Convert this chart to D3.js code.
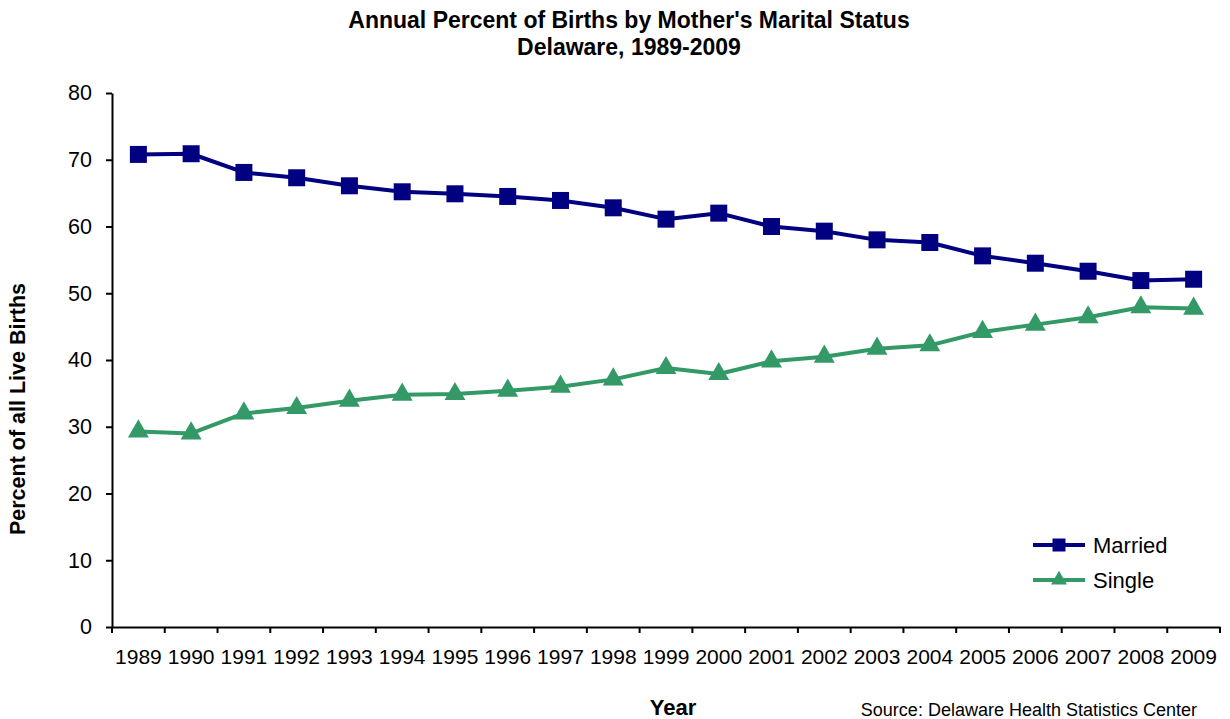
<!DOCTYPE html>
<html>
<head>
<meta charset="utf-8">
<script src="https://cdn.jsdelivr.net/npm/d3@7"></script>
<style>
  html, body { margin: 0; padding: 0; background: #fff; }
  svg { display: block; font-family: "Liberation Sans", Arial, sans-serif; }
</style>
</head>
<body>
<svg id="chart" width="1230" height="719"></svg>
<script>
const years = ["1989","1990","1991","1992","1993","1994","1995","1996","1997","1998","1999","2000","2001","2002","2003","2004","2005","2006","2007","2008","2009"];
const married = [70.8,70.9,68.1,67.3,66.1,65.2,64.9,64.5,63.9,62.8,61.1,62.0,60.0,59.3,58.0,57.6,55.6,54.5,53.3,51.9,52.1];
const single  = [29.3,29.0,32.0,32.8,33.9,34.8,34.9,35.4,36.0,37.1,38.8,37.9,39.8,40.5,41.7,42.2,44.2,45.3,46.4,47.9,47.7];
const yTicks = [0,10,20,30,40,50,60,70,80];
const seriesNames = ["Married","Single"];
const seriesColors = ["#000080","#339966"];

(function () {
const svg = d3.select("#chart");
const pLeft = 112, pRight = 1220, pTop = 93, pBottom = 627;

const x = d3.scaleBand().domain(years).range([pLeft, pRight]).padding(0);
const y = d3.scaleLinear().domain([0, 80]).range([pBottom, pTop]);

// Title
svg.append("text").attr("x", 629).attr("y", 28).attr("text-anchor", "middle")
  .attr("font-size", 23).attr("font-weight", "bold").attr("fill", "#000")
  .text("Annual Percent of Births by Mother's Marital Status");
svg.append("text").attr("x", 629).attr("y", 55).attr("text-anchor", "middle")
  .attr("font-size", 23).attr("font-weight", "bold").attr("fill", "#000")
  .text("Delaware, 1989-2009");

// Y axis
const yAxis = svg.append("g").attr("transform", `translate(${pLeft},0)`)
  .call(d3.axisLeft(y).tickValues(yTicks).tickSize(6).tickPadding(14).tickSizeOuter(0));
yAxis.select(".domain").attr("stroke", "#000").attr("stroke-width", 2);
yAxis.selectAll(".tick line").attr("stroke", "#000").attr("stroke-width", 2);
yAxis.selectAll(".tick text").attr("font-size", 21.5).attr("fill", "#000")
  .attr("font-family", "Liberation Sans, Arial, sans-serif");

// X axis
const xAxis = svg.append("g").attr("transform", `translate(0,${pBottom})`)
  .call(d3.axisBottom(x).tickSize(0).tickPadding(22).tickSizeOuter(0));
xAxis.select(".domain").attr("stroke", "#000").attr("stroke-width", 2);
xAxis.selectAll(".tick text").attr("font-size", 21).attr("fill", "#000")
  .attr("font-family", "Liberation Sans, Arial, sans-serif");
const boundaries = years.map(d => x(d)).concat([x(years[years.length - 1]) + x.bandwidth()]);
xAxis.selectAll("line.bnd").data(boundaries).enter().append("line")
  .attr("class", "bnd").attr("x1", d => d).attr("x2", d => d)
  .attr("y1", 0).attr("y2", 6).attr("stroke", "#000").attr("stroke-width", 2);

// Axis titles
svg.append("text").attr("transform", "translate(25,409) rotate(-90)")
  .attr("text-anchor", "middle").attr("font-size", 21.5).attr("font-weight", "bold")
  .text("Percent of all Live Births");
svg.append("text").attr("x", 673).attr("y", 715).attr("text-anchor", "middle")
  .attr("font-size", 22).attr("font-weight", "bold").text("Year");
svg.append("text").attr("x", 1197).attr("y", 716).attr("text-anchor", "end")
  .attr("font-size", 18).text("Source: Delaware Health Statistics Center");

const cx = d => x(d) + x.bandwidth() / 2;
const line = d3.line().x((d, i) => cx(years[i])).y(d => y(d));

const sq = d3.symbol().type(d3.symbolSquare).size(17 * 17);
const tri = d3.symbol().type(d3.symbolTriangle).size(190);

const allSeries = [married, single];
allSeries.forEach((vals, s) => {
  svg.append("path").datum(vals).attr("d", line).attr("fill", "none")
    .attr("stroke", seriesColors[s]).attr("stroke-width", 4).attr("stroke-linejoin", "round");
  svg.selectAll(null).data(vals).enter().append("path")
    .attr("transform", (d, i) => `translate(${cx(years[i])},${y(d)})`)
    .attr("d", s === 0 ? sq : tri).attr("fill", seriesColors[s]);
});

// Legend
const lg = svg.append("g");
seriesNames.forEach((name, s) => {
  const ly = 545 + s * 35;
  lg.append("line").attr("x1", 1033).attr("x2", 1085).attr("y1", ly).attr("y2", ly)
    .attr("stroke", seriesColors[s]).attr("stroke-width", 4);
  lg.append("path").attr("transform", `translate(1059,${ly})`)
    .attr("d", s === 0 ? d3.symbol().type(d3.symbolSquare).size(13 * 13) : d3.symbol().type(d3.symbolTriangle).size(110))
    .attr("fill", seriesColors[s]);
  lg.append("text").attr("x", 1093).attr("y", ly).attr("dy", "0.36em")
    .attr("font-size", 22).text(name);
});
})();
</script>
</body>
</html>
